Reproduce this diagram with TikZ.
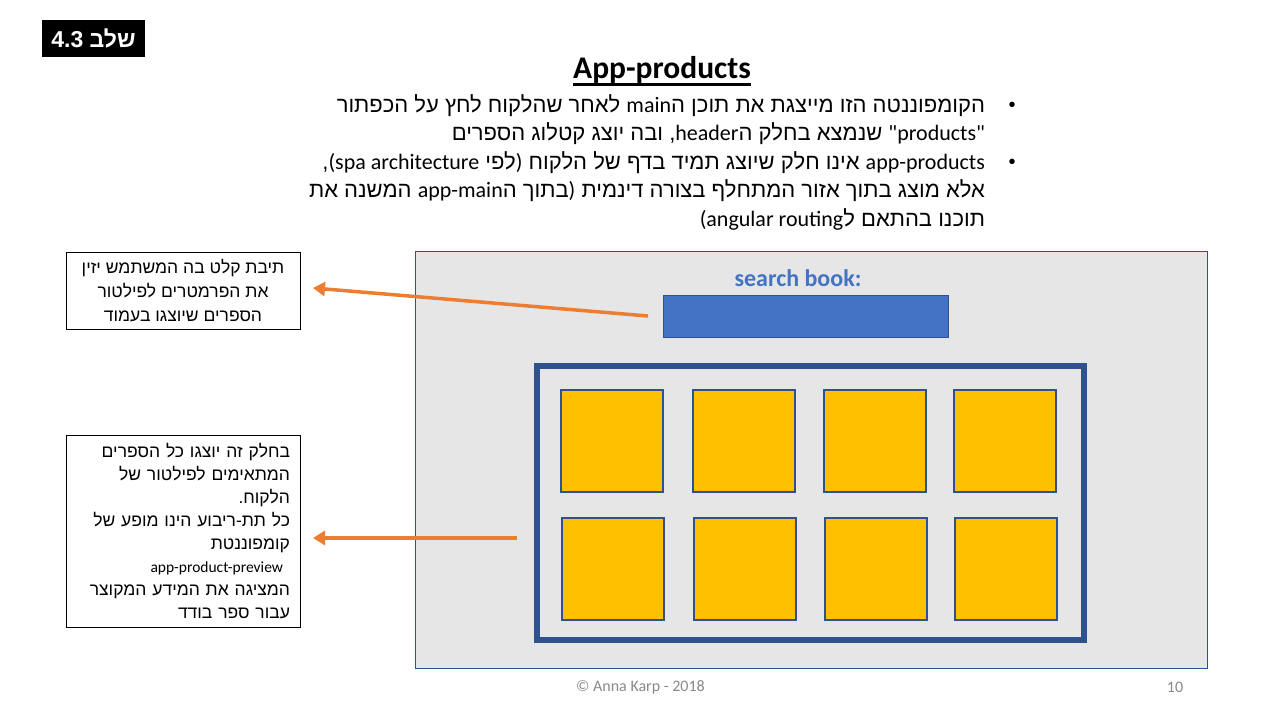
\documentclass[tikz,border=0pt]{standalone}
\usepackage{fontspec}
\setmainfont{Carlito}
\newfontfamily\heb[Script=Hebrew]{Liberation Sans}
\newfontfamily\lat{Carlito}
\TeXXeTstate=1
\usetikzlibrary{arrows.meta}
\newcommand\rl[1]{\beginR #1\endR}
\newcommand\en[1]{\beginL{\lat #1}\endL}
\newcommand\opar{\hbox{\lat )}}
\newcommand\cpar{\hbox{\lat (}}
\definecolor{screengray}{RGB}{230,230,230}
\definecolor{bordblue}{RGB}{47,82,143}
\definecolor{boxblue}{RGB}{68,114,196}
\definecolor{tileyellow}{RGB}{255,192,0}
\definecolor{arrorange}{RGB}{237,125,49}
\definecolor{footgray}{RGB}{137,137,137}
\begin{document}
\begin{tikzpicture}[x=1pt,y=-1pt,
  every node/.style={inner sep=0pt,outer sep=0pt},
  body/.style={anchor=base east,font=\heb\fontsize{22}{26}\selectfont},
  bul/.style={anchor=base,font=\heb\fontsize{20}{24}\selectfont},
  tile/.style={draw=bordblue,line width=1.2pt,fill=tileyellow,minimum width=102pt,minimum height=102pt},
  notebox/.style={draw=black,line width=0.9pt,minimum width=234pt},
  arr/.style={draw=arrorange,line width=3.5pt,-{Triangle[length=12pt,width=14pt]}}]
\useasboundingbox (0,0) rectangle (1280,720);
\fill[white] (0,0) rectangle (1280,720);

% step tag
\node[fill=black,text=white,minimum width=103pt,minimum height=37pt,font=\heb\bfseries\fontsize{23}{26}\selectfont] (tag) at (93.5,38.5) {\rl{שלב 4.3}};

% title
\node[font=\lat\bfseries\fontsize{31.5}{34}\selectfont] (title) at (662,70) {App-products};
\draw[line width=2.2pt] ([yshift=-1pt]title.south west) -- ([yshift=-1pt]title.south east);

% bullets
\node[bul] (b1) at (1012,111) {•};
\node[bul] (b2) at (1012,168) {•};
\node[body] (l1) at (985,112) {\rl{הקומפוננטה הזו מייצגת את תוכן ה\en{main} לאחר שהלקוח לחץ על הכפתור}};
\node[body] (l2) at (985,140) {\rl{\en{"products"} שנמצא בחלק ה\en{header}, ובה יוצג קטלוג הספרים}};
\node[body] (l3) at (985,169) {\rl{\en{app-products} אינו חלק שיוצג תמיד בדף של הלקוח \opar לפי \en{spa architecture}\cpar,}};
\node[body] (l4) at (985,197) {\rl{אלא מוצג בתוך אזור המתחלף בצורה דינמית \opar בתוך ה\en{app-main} המשנה את}};
\node[body] (l5) at (985,226) {\rl{תוכנו בהתאם ל\en{angular routing}\cpar}};

% note boxes
\node[notebox,minimum height=77pt,align=center,font=\heb\fontsize{17.5}{24}\selectfont] (box1) at (183,290.5)
  {\rl{תיבת קלט בה המשתמש יזין}\\\rl{את הפרמטרים לפילטור}\\\rl{הספרים שיוצגו בעמוד}};
\node[notebox,minimum height=192pt,text width=214pt,align=right,font=\heb\fontsize{17.5}{23}\selectfont] (box2) at (183,531)
  {\rl{בחלק זה יוצגו כל הספרים}\\\rl{המתאימים לפילטור של}\\\rl{הלקוח.}\\\rl{כל תת-ריבוע הינו מופע של}\\\rl{קומפוננטת}\\{\lat\fontsize{15.5}{23}\selectfont app-product-preview}\kern7pt\\\rl{המציגה את המידע המקוצר}\\\rl{עבור ספר בודד}};

% screen mockup
\node[draw=bordblue,line width=0.9pt,fill=screengray,minimum width=792pt,minimum height=417pt] (screen) at (811,459.5) {};
\node[font=\lat\bfseries\fontsize{24}{26}\selectfont,text=boxblue] (lbl) at (798,278) {search book:};
\node[fill=boxblue,draw=bordblue,line width=0.9pt,minimum width=285pt,minimum height=42pt] (input) at (805.5,316) {};
\node[draw=bordblue,line width=6pt,minimum width=547pt,minimum height=274pt] (frame) at (810.5,503) {};

\node[tile] (t1) at (612,441) {};
\node[tile] (t2) at (744,441) {};
\node[tile] (t3) at (875,441) {};
\node[tile] (t4) at (1005,441) {};
\node[tile] (t5) at (613,569) {};
\node[tile] (t6) at (745,569) {};
\node[tile] (t7) at (876,569) {};
\node[tile] (t8) at (1006,569) {};

% arrows
\draw[arr] ([xshift=-15pt]input.west) -- ([xshift=13pt,yshift=2.5pt]box1.east);
\coordinate (a2) at (517,538);
\draw[arr] (a2) -- ([xshift=13pt]box2.east |- a2);

% footer
\node[font=\lat\fontsize{16}{18}\selectfont,text=footgray] (copy) at (640.5,687) {© Anna Karp - 2018};
\node[font=\lat\fontsize{16}{18}\selectfont,text=footgray] (page) at (1175,687) {10};
\end{tikzpicture}
\end{document}
